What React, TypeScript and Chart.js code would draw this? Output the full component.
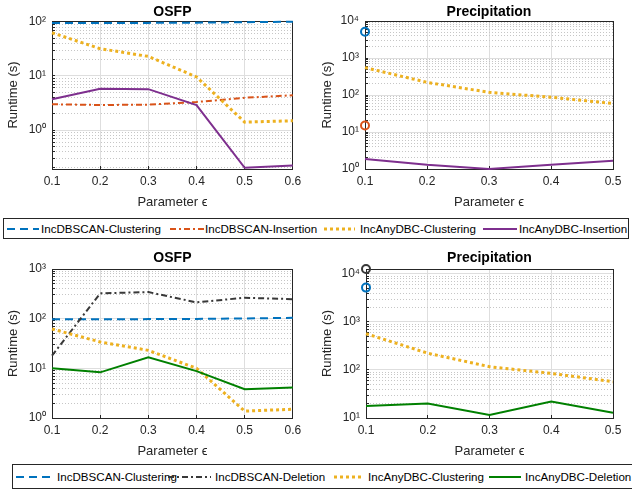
import React, { useEffect, useRef } from 'react';
import { Chart, registerables } from 'chart.js';

Chart.register(...registerables);

const FONT = '"Liberation Sans", Arial, Helvetica, sans-serif';

// ---- data ----
const epsOSFP = [0.1, 0.2, 0.3, 0.4, 0.5, 0.6];
const epsPrecip = [0.1, 0.2, 0.3, 0.4, 0.5];

// Insertion — OSFP
const osfpInsDbscanClustering = [95, 95, 96, 97, 99, 101];
const osfpInsDbscanInsertion = [3.0, 2.9, 2.95, 3.3, 3.95, 4.4];
const osfpInsAnyClustering = [63, 32, 23, 9.6, 1.4, 1.48];
const osfpInsAnyInsertion = [3.7, 5.8, 5.7, 2.9, 0.2, 0.22];

// Insertion — Precipitation (IncDBSCAN only finished for eps = 0.1)
const precInsDbscanClustering = [5150];
const precInsDbscanInsertion = [15];
const precInsAnyClustering = [550, 220, 118, 87, 59];
const precInsAnyInsertion = [1.85, 1.3, 1.0, 1.3, 1.67];

// Deletion — OSFP
const osfpDelDbscanClustering = [97, 97, 98, 99, 101, 104];
const osfpDelDbscanDeletion = [18, 323, 343, 213, 264, 247];
const osfpDelAnyClustering = [62, 34, 23, 10, 1.38, 1.5];
const osfpDelAnyDeletion = [10, 8.3, 16.6, 8.8, 3.8, 4.1];

// Deletion — Precipitation
const precDelDbscanClustering = [5200];
const precDelDbscanDeletion = [12700];
const precDelAnyClustering = [570, 224, 117, 85, 57];
const precDelAnyDeletion = [17.8, 20, 11.6, 22, 12.9];

const labelsInsertion = ['IncDBSCAN-Clustering', 'IncDBSCAN-Insertion', 'IncAnyDBC-Clustering', 'IncAnyDBC-Insertion'];
const labelsDeletion = ['IncDBSCAN-Clustering', 'IncDBSCAN-Deletion', 'IncAnyDBC-Clustering', 'IncAnyDBC-Deletion'];

// ---- styles ----
type Style = { color: string; width: number; dash: number[] };
const S_DB_CLU: Style = { color: '#0072BD', width: 2, dash: [8, 5] };
const S_DB_INS: Style = { color: '#D95319', width: 2, dash: [6, 3, 2, 3] };
const S_DB_DEL: Style = { color: '#383838', width: 2, dash: [6, 3, 2, 3] };
const S_ANY_CLU: Style = { color: '#EDB120', width: 3, dash: [3, 3] };
const S_ANY_INS: Style = { color: '#7E2F8E', width: 2, dash: [] };
const S_ANY_DEL: Style = { color: '#008000', width: 2, dash: [] };

const stylesInsertion = [S_DB_CLU, S_DB_INS, S_ANY_CLU, S_ANY_INS];
const stylesDeletion = [S_DB_CLU, S_DB_DEL, S_ANY_CLU, S_ANY_DEL];

const AXIS = '#262626';
const GRID_MAJOR = '#dedede';
const GRID_MINOR = '#c6c6c6';
const SUP = ['⁰', '¹', '²', '³', '⁴', '⁵', '⁶', '⁷', '⁸', '⁹'];

const isPow10 = (v?: number) =>
  v !== undefined && v > 0 && Math.abs(Math.log10(v) - Math.round(Math.log10(v))) < 1e-6;

function logGrid(min: number, max: number) {
  const out: number[] = [];
  for (let e = Math.floor(Math.log10(min)); e <= Math.ceil(Math.log10(max)); e++) {
    for (let m = 1; m <= 9; m++) {
      const v = m * Math.pow(10, e);
      if (v >= min * (1 - 1e-9) && v <= max * (1 + 1e-9)) out.push(v);
    }
  }
  return out;
}

type Series = { label: string; values: number[]; style: Style };

type PanelProps = {
  left: number; top: number; width: number; height: number;
  title: string; xs: number[]; series: Series[];
  yMin: number; yMax: number; yAxisWidth: number; padRight: number;
  titlePadTop: number; titlePadBottom: number; yTitlePad: number;
};

function Panel(p: PanelProps) {
  const ref = useRef<HTMLCanvasElement | null>(null);
  useEffect(() => {
    if (!ref.current) return;
    const n = p.series.length;
    const datasets = p.series.map((s, i) => ({
      label: s.label,
      data: s.values.map((v, j) => ({ x: p.xs[j], y: v })),
      borderColor: s.style.color,
      backgroundColor: s.style.color,
      borderWidth: s.style.width,
      borderDash: s.style.dash,
      borderCapStyle: 'butt' as const,
      borderJoinStyle: 'miter' as const,
      pointRadius: s.values.length === 1 ? 4 : 0,
      pointHoverRadius: 0,
      pointBorderWidth: 2,
      pointBorderColor: s.style.color,
      pointBackgroundColor: 'rgba(255,255,255,0)',
      showLine: s.values.length > 1,
      tension: 0,
      clip: false as const,
      order: n - i,
    }));
    const tickFont = { size: 12, family: FONT };
    const chart = new Chart(ref.current, {
      type: 'line',
      data: { datasets },
      options: {
        animation: false,
        responsive: false,
        maintainAspectRatio: false,
        events: [],
        layout: { padding: { left: 0, right: p.padRight, top: 0, bottom: 0 } },
        plugins: {
          legend: { display: false },
          tooltip: { enabled: false },
          title: {
            display: true,
            text: p.title,
            fullSize: false,
            color: '#000',
            font: { size: 14, weight: 'bold', family: FONT },
            padding: { top: p.titlePadTop, bottom: p.titlePadBottom },
          },
        },
        scales: {
          x: {
            type: 'linear',
            position: 'bottom',
            min: p.xs[0],
            max: p.xs[p.xs.length - 1],
            afterBuildTicks: (sc: any) => { sc.ticks = p.xs.map((v) => ({ value: v })); },
            ticks: {
              autoSkip: false,
              maxRotation: 0,
              padding: 8.8,
              color: AXIS,
              font: tickFont,
              callback: (v: any) => Number(v).toFixed(1),
            },
            grid: { color: GRID_MAJOR, lineWidth: 1, drawTicks: true, tickLength: -3, tickColor: AXIS, tickWidth: 1 },
            border: { display: true, color: AXIS, width: 1 },
            title: {
              display: true,
              text: 'Parameter ϵ',
              color: AXIS,
              font: { size: 13, family: FONT },
              padding: { top: 0, bottom: 0 },
            },
            afterFit: (sc: any) => { sc.height = 41; },
          },
          y: {
            type: 'logarithmic',
            position: 'left',
            min: p.yMin,
            max: p.yMax,
            afterBuildTicks: (sc: any) => { sc.ticks = logGrid(p.yMin, p.yMax).map((v) => ({ value: v })); },
            ticks: {
              autoSkip: false,
              padding: 9,
              color: AXIS,
              font: tickFont,
              callback: (v: any) => (isPow10(Number(v)) ? '10' + SUP[Math.round(Math.log10(Number(v)))] : ''),
            },
            grid: {
              color: (ctx: any) => (ctx.tick && !isPow10(ctx.tick.value) ? GRID_MINOR : GRID_MAJOR),
              lineWidth: 1,
              drawTicks: true,
              tickLength: -3,
              tickColor: AXIS,
              tickWidth: 1,
            },
            border: {
              display: true,
              color: AXIS,
              width: 1,
              dash: (ctx: any) => (ctx.tick && !isPow10(ctx.tick.value) ? [1, 2] : []),
            },
            title: {
              display: true,
              text: 'Runtime (s)',
              color: AXIS,
              font: { size: 13, family: FONT },
              padding: { top: p.yTitlePad, bottom: 0 },
            },
            afterFit: (sc: any) => { sc.width = p.yAxisWidth; },
          },
          x2: {
            type: 'linear',
            position: 'top',
            display: true,
            ticks: { display: false },
            grid: { display: true, drawOnChartArea: false, drawTicks: false },
            border: { display: true, color: AXIS, width: 1 },
            afterFit: (sc: any) => { sc.height = 0; },
          },
          y2: {
            type: 'linear',
            position: 'right',
            display: true,
            ticks: { display: false },
            grid: { display: true, drawOnChartArea: false, drawTicks: false },
            border: { display: true, color: AXIS, width: 1 },
            afterFit: (sc: any) => { sc.width = 0; },
          },
        },
      } as any,
    });
    return () => chart.destroy();
  }, []);
  return (
    <canvas
      ref={ref}
      width={p.width}
      height={p.height}
      style={{ position: 'absolute', left: p.left, top: p.top, width: p.width, height: p.height }}
    />
  );
}

type LegendProps = {
  left: number; top: number; width: number; height: number;
  labels: string[]; styles: Style[];
  samples: [number, number][]; texts: number[];
};

function Legend(p: LegendProps) {
  return (
    <div
      style={{
        position: 'absolute', left: p.left, top: p.top, width: p.width, height: p.height,
        boxSizing: 'border-box', border: '1px solid ' + AXIS, background: '#fff',
        fontFamily: FONT, fontSize: 11.6, color: '#000',
      }}
    >
      {p.labels.map((lab, i) => {
        const [sx, sw] = p.samples[i];
        const st = p.styles[i];
        return (
          <React.Fragment key={lab + i}>
            <svg
              width={sw}
              height={10}
              style={{ position: 'absolute', left: sx, top: (p.height - 2) / 2 - 5 }}
            >
              <line
                x1={0} y1={5} x2={sw} y2={5}
                stroke={st.color}
                strokeWidth={st.width}
                strokeDasharray={st.dash.length ? st.dash.join(' ') : undefined}
              />
            </svg>
            <span
              style={{
                position: 'absolute', left: p.texts[i], top: 0, lineHeight: (p.height - 2) + 'px',
                whiteSpace: 'nowrap',
              }}
            >
              {lab}
            </span>
          </React.Fragment>
        );
      })}
    </div>
  );
}

export default function App() {
  const insOSFP: Series[] = [
    { label: labelsInsertion[0], values: osfpInsDbscanClustering, style: stylesInsertion[0] },
    { label: labelsInsertion[1], values: osfpInsDbscanInsertion, style: stylesInsertion[1] },
    { label: labelsInsertion[2], values: osfpInsAnyClustering, style: stylesInsertion[2] },
    { label: labelsInsertion[3], values: osfpInsAnyInsertion, style: stylesInsertion[3] },
  ];
  const insPrec: Series[] = [
    { label: labelsInsertion[0], values: precInsDbscanClustering, style: stylesInsertion[0] },
    { label: labelsInsertion[1], values: precInsDbscanInsertion, style: stylesInsertion[1] },
    { label: labelsInsertion[2], values: precInsAnyClustering, style: stylesInsertion[2] },
    { label: labelsInsertion[3], values: precInsAnyInsertion, style: stylesInsertion[3] },
  ];
  const delOSFP: Series[] = [
    { label: labelsDeletion[0], values: osfpDelDbscanClustering, style: stylesDeletion[0] },
    { label: labelsDeletion[1], values: osfpDelDbscanDeletion, style: stylesDeletion[1] },
    { label: labelsDeletion[2], values: osfpDelAnyClustering, style: stylesDeletion[2] },
    { label: labelsDeletion[3], values: osfpDelAnyDeletion, style: stylesDeletion[3] },
  ];
  const delPrec: Series[] = [
    { label: labelsDeletion[0], values: precDelDbscanClustering, style: stylesDeletion[0] },
    { label: labelsDeletion[1], values: precDelDbscanDeletion, style: stylesDeletion[1] },
    { label: labelsDeletion[2], values: precDelAnyClustering, style: stylesDeletion[2] },
    { label: labelsDeletion[3], values: precDelAnyDeletion, style: stylesDeletion[3] },
  ];

  return (
    <div style={{ position: 'absolute', left: 0, top: 0, width: 632, height: 492, overflow: 'hidden', background: '#fff' }}>
      <Panel left={0} top={0} width={310} height={210} title="OSFP" xs={epsOSFP} series={insOSFP}
        yMin={0.19} yMax={104} yAxisWidth={52} padRight={11} titlePadTop={3.6} titlePadBottom={0.6} yTitlePad={5.2} />
      <Panel left={310} top={0} width={322} height={210} title="Precipitation" xs={epsPrecip} series={insPrec}
        yMin={1} yMax={10000} yAxisWidth={55} padRight={19} titlePadTop={3.6} titlePadBottom={0.6} yTitlePad={10} />
      <Legend left={3} top={218} width={626} height={21} labels={labelsInsertion} styles={stylesInsertion}
        samples={[[3, 32], [166, 34], [320, 31], [479, 34]]} texts={[37, 201, 356, 515]} />
      <Panel left={0} top={246} width={310} height={213} title="OSFP" xs={epsOSFP} series={delOSFP}
        yMin={1} yMax={1000} yAxisWidth={52} padRight={11} titlePadTop={3.6} titlePadBottom={2.6} yTitlePad={5.2} />
      <Panel left={310} top={246} width={322} height={213} title="Precipitation" xs={epsPrecip} series={delPrec}
        yMin={10} yMax={12700} yAxisWidth={56} padRight={19} titlePadTop={3.6} titlePadBottom={2.6} yTitlePad={10} />
      <Legend left={12} top={464} width={630} height={25} labels={labelsDeletion} styles={stylesDeletion}
        samples={[[3, 38], [155, 43], [321, 30], [476, 32]]} texts={[44, 202, 355, 512]} />
    </div>
  );
}
